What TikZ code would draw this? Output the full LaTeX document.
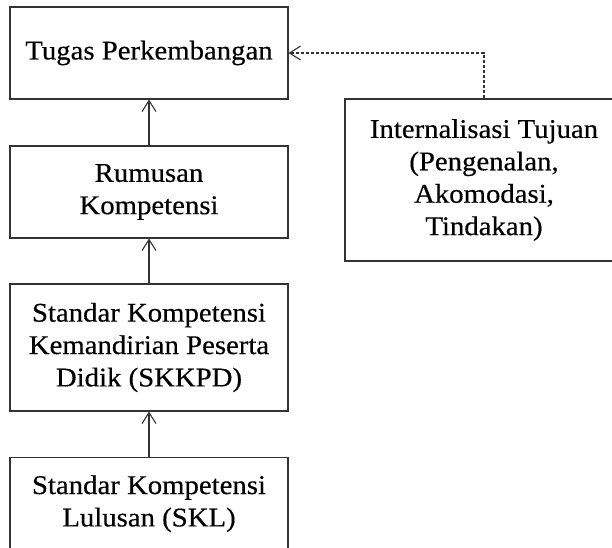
\documentclass[tikz,border=0pt]{standalone}
\usepackage{fontspec}
\setmainfont[FakeStretch=1.065,FakeBold=0.4]{Liberation Serif}
\usetikzlibrary{arrows.meta}
\tikzset{
  box/.style={draw=black!80, line width=1.1pt, rectangle, inner sep=0pt,
    minimum width=278pt, align=center,
    font=\fontsize{27}{32.4}\selectfont},
  link/.style={draw=black!80, line width=1.1pt,
    -{Straight Barb[length=11pt,width=14pt,line width=1.1pt]}},
  dlink/.style={link, dash pattern=on 3pt off 2pt}
}
\begin{document}
\begin{tikzpicture}[x=1pt,y=-1pt]
\useasboundingbox (0,0) rectangle (612,547);
\node[box, minimum height=92pt] (tugas) at (149,53) {Tugas Perkembangan};
\node[box, minimum height=92pt] (rumusan) at (149,192) {Rumusan\\Kompetensi};
\node[box, minimum height=127pt] (skkpd) at (149,347.5) {Standar Kompetensi\\Kemandirian Peserta\\Didik (SKKPD)};
\node[box, minimum height=92pt] (skl) at (149,503.7) {Standar Kompetensi\\Lulusan (SKL)};
\node[box, minimum height=162pt] (intern) at (484,180) {Internalisasi Tujuan\\(Pengenalan,\\Akomodasi,\\Tindakan)};
\coordinate (corner) at (intern.north |- tugas.east);
\draw[link] (rumusan) -- (tugas);
\draw[link] (skkpd) -- (rumusan);
\draw[link] (skl) -- (skkpd);
\draw[dlink] (intern.north) -- (corner) -- (tugas.east);
\end{tikzpicture}
\end{document}
